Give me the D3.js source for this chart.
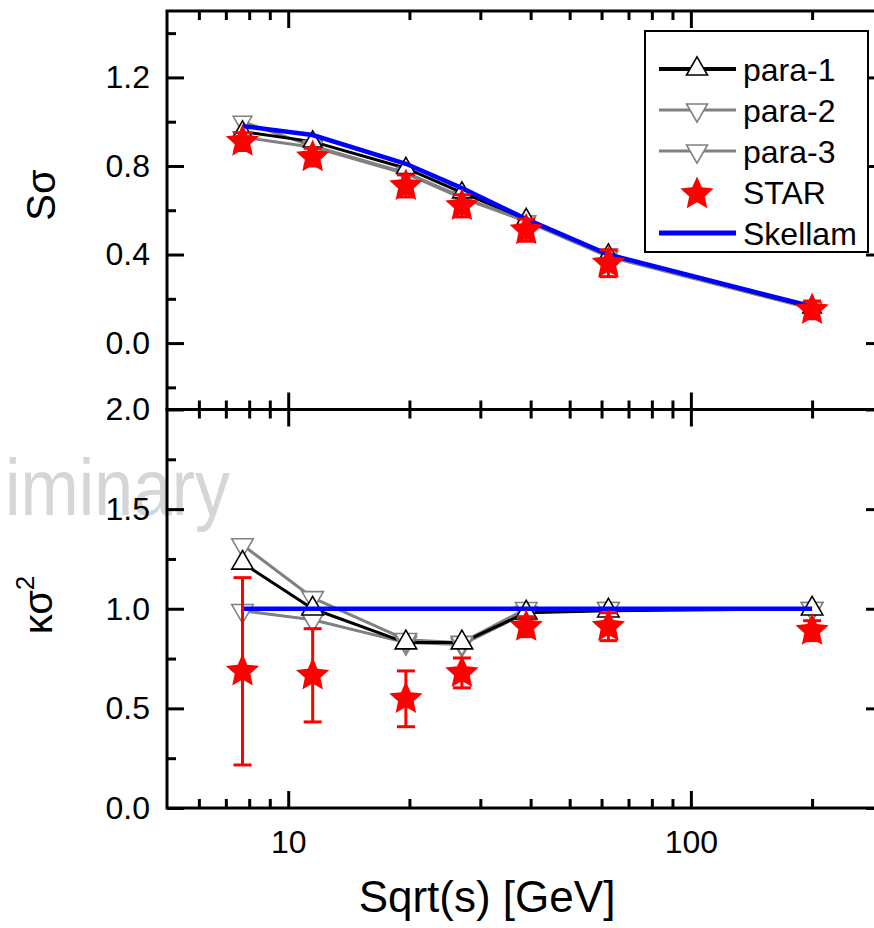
<!DOCTYPE html>
<html><head><meta charset="utf-8">
<script src="https://cdn.jsdelivr.net/npm/d3@7"></script>
<style>body{margin:0;background:#fff;overflow:hidden}</style>
</head><body><svg id="c" width="874" height="928"></svg>
<script>
// ---------- data ----------
const energies = [7.7, 11.5, 19.6, 27, 39, 62.4, 200];

// S*sigma panel
const sSigmaPara1   = [0.955, 0.91, 0.79, 0.68, 0.56, 0.40, 0.16];
const sSigmaPara2   = [1.00, 0.89, 0.77, 0.66, 0.55, 0.40, 0.16];
const sSigmaPara3   = [0.93, 0.885, 0.765, 0.655, 0.55, 0.39, 0.155];
const sSigmaStar    = [0.91, 0.84, 0.71, 0.62, 0.51, 0.36, 0.15];
const sSigmaStarErr = [0.04, 0.04, 0.05, 0.05, 0.05, 0.06, 0.04];
const sSigmaSkellam = [0.98, 0.94, 0.81, 0.70, 0.56, 0.40, 0.165];

// kappa*sigma^2 panel
const kSigmaPara1   = [1.23, 1.00, 0.83, 0.83, 0.98, 0.99, 1.00];
const kSigmaPara2   = [1.32, 1.055, 0.845, 0.83, 1.00, 1.00, 1.00];
const kSigmaPara3   = [0.99, 0.945, 0.83, 0.82, 0.98, 1.00, 1.00];
const kSigmaStar    = [0.686, 0.666, 0.548, 0.678, 0.91, 0.91, 0.89];
const kSigmaStarErr = [0.47, 0.234, 0.14, 0.075, 0.05, 0.07, 0.05];
const kSigmaSkellam = [1, 1, 1, 1, 1, 1, 1];

// ticks and labels
const xMajorTicks = [10, 100];
const xMinorTicks = [6, 7, 8, 9, 20, 30, 40, 50, 60, 70, 80, 90, 200];
const sSigmaMajorTicks = [0.0, 0.4, 0.8, 1.2];
const sSigmaMinorTicks = [-0.2, 0.2, 0.6, 1.0, 1.4];
const kSigmaMajorTicks = [0.0, 0.5, 1.0, 1.5, 2.0];
const kSigmaMinorTicks = [0.25, 0.75, 1.25, 1.75];
const legendLabels = ["para-1", "para-2", "para-3", "STAR", "Skellam"];
const xTitle = "Sqrt(s) [GeV]";
const watermark = "iminary";

// ---------- layout ----------
const L = 167, R = 883, T = 11, M = 409.5, B = 808;
const FONT = "'Liberation Sans', Arial, sans-serif";
const svg = d3.select("#c");
const x = d3.scaleLog().domain([5, 300]).range([L, R]);
const yTop = d3.scaleLinear().domain([-0.3, 1.5]).range([M, T]);
const yBot = d3.scaleLinear().domain([0, 2]).range([B, M]);

// custom 5-point star (chunkier than d3.symbolStar, like Origin's)
function starPath(ro, ri) {
  const pts = [];
  for (let k = 0; k < 10; k++) {
    const a = -Math.PI / 2 + k * Math.PI / 5;
    const r = k % 2 ? ri : ro;
    pts.push([r * Math.cos(a), r * Math.sin(a)]);
  }
  return "M" + pts.map(p => p[0].toFixed(2) + "," + p[1].toFixed(2)).join("L") + "Z";
}
const STAR = starPath(17.5, 8.2);

// watermark (beneath)
svg.append("text").attr("x", 5).attr("y", 515)
  .attr("font-family", FONT).attr("font-size", 80)
  .attr("textLength", 225).attr("lengthAdjust", "spacingAndGlyphs")
  .attr("fill", "#d6d6d6").text(watermark);

function styleAxis(g) {
  g.select(".domain").remove();
  g.selectAll(".tick line").attr("stroke", "#000").attr("stroke-width", 3);
  g.selectAll(".tick text").attr("font-family", FONT).attr("font-size", 32).attr("fill", "#000");
}

function panel(y, major, minor, showX) {
  const fmt = d3.format(".1f");
  svg.append("g").attr("transform", `translate(${L},0)`)
    .call(d3.axisLeft(y).tickValues(major).tickSize(-17).tickPadding(17).tickFormat(fmt)).call(styleAxis);
  svg.append("g").attr("transform", `translate(${L},0)`)
    .call(d3.axisLeft(y).tickValues(minor).tickSize(-9).tickFormat("")).call(styleAxis);
  svg.append("g").attr("transform", `translate(${R},0)`)
    .call(d3.axisRight(y).tickValues(major).tickSize(-17).tickFormat("")).call(styleAxis);
  svg.append("g").attr("transform", `translate(${R},0)`)
    .call(d3.axisRight(y).tickValues(minor).tickSize(-9).tickFormat("")).call(styleAxis);
  const y0 = y.range()[0], y1 = y.range()[1];
  svg.append("g").attr("transform", `translate(0,${y0})`)
    .call(d3.axisBottom(x).tickValues(xMajorTicks).tickSize(-17).tickPadding(22)
      .tickFormat(showX ? d3.format("d") : "")).call(styleAxis);
  svg.append("g").attr("transform", `translate(0,${y0})`)
    .call(d3.axisBottom(x).tickValues(xMinorTicks).tickSize(-9).tickFormat("")).call(styleAxis);
  svg.append("g").attr("transform", `translate(0,${y1})`)
    .call(d3.axisTop(x).tickValues(xMajorTicks).tickSize(-17).tickFormat("")).call(styleAxis);
  svg.append("g").attr("transform", `translate(0,${y1})`)
    .call(d3.axisTop(x).tickValues(xMinorTicks).tickSize(-9).tickFormat("")).call(styleAxis);
  svg.append("rect").attr("x", L).attr("y", y1).attr("width", R - L).attr("height", y0 - y1)
    .attr("fill", "none").attr("stroke", "#000").attr("stroke-width", 3);
}

function series(y, p1, p2, p3, star, starErr, skel, mSize) {
  const line = vals => d3.line().x((d, i) => x(energies[i])).y(d => y(d))(vals);
  const gray = "#808080";
  [[p3, gray], [p2, gray], [p1, "#000"]].forEach(([v, c]) => {
    svg.append("path").attr("d", line(v)).attr("fill", "none")
      .attr("stroke", c).attr("stroke-width", 3).attr("stroke-linejoin", "round");
  });
  const tri = d3.symbol().type(d3.symbolTriangle).size(mSize)();
  [[p3, gray, 180], [p2, gray, 180], [p1, "#000", 0]].forEach(([v, c, rot]) => {
    svg.append("g").selectAll("path").data(v).join("path")
      .attr("d", tri)
      .attr("transform", (d, i) => `translate(${x(energies[i])},${y(d)}) rotate(${rot})`)
      .attr("fill", "#fff").attr("stroke", c).attr("stroke-width", 1.6);
  });
  svg.append("path").attr("d", line(skel)).attr("fill", "none")
    .attr("stroke", "#0000ff").attr("stroke-width", 4.5);
  const eg = svg.append("g").attr("stroke", "#ff0000").attr("stroke-width", 3);
  star.forEach((v, i) => {
    const cx = x(energies[i]), ya = y(v + starErr[i]), yb = y(v - starErr[i]);
    eg.append("line").attr("x1", cx).attr("x2", cx).attr("y1", ya).attr("y2", yb);
    eg.append("line").attr("x1", cx - 9).attr("x2", cx + 9).attr("y1", ya).attr("y2", ya);
    eg.append("line").attr("x1", cx - 9).attr("x2", cx + 9).attr("y1", yb).attr("y2", yb);
  });
  svg.append("g").selectAll("path").data(star).join("path")
    .attr("d", STAR).attr("transform", (d, i) => `translate(${x(energies[i])},${y(d)})`)
    .attr("fill", "#ff0000");
}

series(yTop, sSigmaPara1, sSigmaPara2, sSigmaPara3, sSigmaStar, sSigmaStarErr, sSigmaSkellam, 150);
series(yBot, kSigmaPara1, kSigmaPara2, kSigmaPara3, kSigmaStar, kSigmaStarErr, kSigmaSkellam, 200);

panel(yTop, sSigmaMajorTicks, sSigmaMinorTicks, false);
panel(yBot, kSigmaMajorTicks, kSigmaMinorTicks, true);

// axis titles
svg.append("text").attr("x", 487).attr("y", 912).attr("text-anchor", "middle")
  .attr("font-family", FONT).attr("font-size", 44).text(xTitle);
svg.append("text").attr("transform", "translate(55,195) rotate(-90)").attr("text-anchor", "middle")
  .attr("font-family", FONT).attr("font-size", 40).text("Sσ");
const kt = svg.append("text").attr("transform", "translate(52,605) rotate(-90)").attr("text-anchor", "middle")
  .attr("font-family", FONT).attr("font-size", 40);
kt.append("tspan").text("κσ");
kt.append("tspan").attr("font-size", 26).attr("dy", -18).text("2");

// legend
const lg = svg.append("g");
lg.append("rect").attr("x", 645).attr("y", 31).attr("width", 223).attr("height", 221)
  .attr("fill", "#fff").attr("stroke", "#000").attr("stroke-width", 2);
const legStyles = [
  {line: "#000", lw: 4, tri: 0, tc: "#000"},
  {line: "#808080", lw: 3, tri: 180, tc: "#808080"},
  {line: "#808080", lw: 3, tri: 180, tc: "#808080"},
  {star: true},
  {line: "#0000ff", lw: 5}
];
legendLabels.forEach((lab, i) => {
  const cy = 69 + i * 41;
  const s = legStyles[i];
  if (s.line) lg.append("line").attr("x1", 659).attr("x2", 736).attr("y1", cy).attr("y2", cy)
    .attr("stroke", s.line).attr("stroke-width", s.lw);
  if (s.tri !== undefined) lg.append("path").attr("d", d3.symbol().type(d3.symbolTriangle).size(190)())
    .attr("transform", `translate(697,${cy}) rotate(${s.tri})`)
    .attr("fill", "#fff").attr("stroke", s.tc).attr("stroke-width", 1.6);
  if (s.star) lg.append("path").attr("d", STAR)
    .attr("transform", `translate(697,${cy + 2})`).attr("fill", "#ff0000");
  lg.append("text").attr("x", 743).attr("y", cy).attr("dy", "0.36em")
    .attr("font-family", FONT).attr("font-size", 32).text(lab);
});
</script>
</body></html>
